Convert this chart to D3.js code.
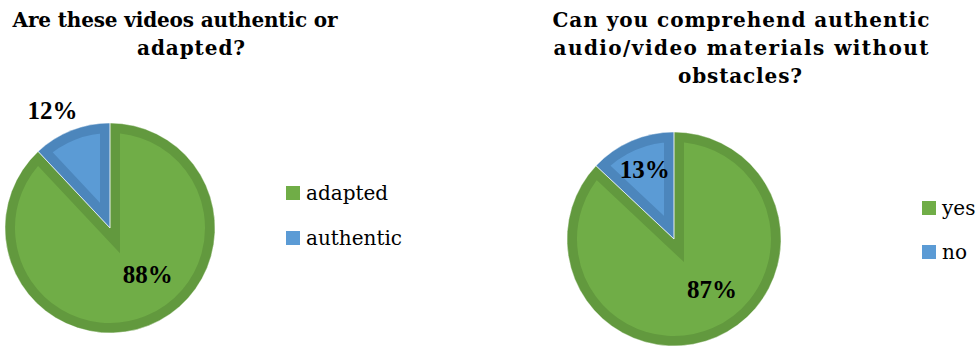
<!DOCTYPE html>
<html><head><meta charset="utf-8">
<script src="https://cdn.jsdelivr.net/npm/d3@7"></script>
<style>
html,body{margin:0;padding:0;background:#fff;}
svg{display:block;}
</style></head>
<body>
<svg id="c" width="979" height="347"></svg>
<script>
// ---- data ----
const chart1Categories = ["adapted", "authentic"];
const chart1Values = [88, 12];
const chart1Title = ["Are these videos authentic or", "adapted?"];

const chart2Categories = ["yes", "no"];
const chart2Values = [87, 13];
const chart2Title = ["Can you comprehend authentic", "audio/video materials without", "obstacles?"];

// ---- styles ----
const fills = ["#70AD47", "#5B9BD5"];
const borders = ["#62993E", "#4C86BC"];
const serif = "'DejaVu Serif', 'Liberation Serif', serif";
const labelFont = "'Liberation Serif', 'DejaVu Serif', serif";

const svg = d3.select("#c");

const charts = [
  {cats: chart1Categories, vals: chart1Values, title: chart1Title,
   cx: 110, cy: 228, r: 105,
   titleLines: [{x: 175, y: 27, w: 325}, {x: 191, y: 55, w: 108}],
   labelPos: [[141, 60], [334, 131]],
   legend: {x: 286, y: 186, gap: 45}},
  {cats: chart2Categories, vals: chart2Values, title: chart2Title,
   cx: 674, cy: 239, r: 107,
   titleLines: [{x: 741, y: 27, w: 377}, {x: 741, y: 55, w: 375}, {x: 740, y: 83, w: 124}],
   labelPos: [[143, 63], [337, 75]],
   legend: {x: 922, y: 201, gap: 44}}
];

const pie = d3.pie().sort(null).value(d => d);
const bw = 10;

charts.forEach((c, ci) => {
  const g = svg.append("g").attr("transform", `translate(${c.cx},${c.cy})`);
  const arc = d3.arc().innerRadius(0).outerRadius(c.r);
  const arcs = pie(c.vals);
  arcs.forEach((a, i) => {
    const id = `clip${ci}_${i}`;
    g.append("clipPath").attr("id", id).append("path").attr("d", arc(a));
    g.append("path").attr("d", arc(a))
      .attr("fill", fills[i])
      .attr("stroke", borders[i])
      .attr("stroke-width", bw * 2)
      .attr("stroke-linejoin", "miter")
      .attr("stroke-miterlimit", 10)
      .attr("clip-path", `url(#${id})`);
  });
  arcs.forEach((a, i) => {
    g.append("path").attr("d", arc(a))
      .attr("fill", "none")
      .attr("stroke", "#ffffff")
      .attr("stroke-opacity", 0.5)
      .attr("stroke-width", 1);
  });
  // labels
  arcs.forEach((a, i) => {
    const [ang, rr] = c.labelPos[i];
    const t = ang * Math.PI / 180;
    g.append("text")
      .attr("x", rr * Math.sin(t))
      .attr("y", -rr * Math.cos(t))
      .attr("dy", "0.33em")
      .attr("text-anchor", "middle")
      .attr("font-family", labelFont)
      .attr("font-weight", "bold")
      .attr("font-size", 25)
      .attr("fill", "#000")
      .text(Math.round(c.vals[i]) + "%");
  });
  // title
  c.title.forEach((line, li) => {
    const tl = c.titleLines[li];
    svg.append("text")
      .attr("x", tl.x).attr("y", tl.y)
      .attr("text-anchor", "middle")
      .attr("font-family", serif)
      .attr("font-weight", "bold")
      .attr("font-size", 20)
      .attr("textLength", tl.w)
      .attr("lengthAdjust", "spacing")
      .attr("fill", "#000")
      .text(line);
  });
  // legend
  c.cats.forEach((cat, i) => {
    const ly = c.legend.y + i * c.legend.gap;
    svg.append("rect").attr("x", c.legend.x).attr("y", ly)
      .attr("width", 14).attr("height", 14).attr("fill", fills[i]);
    svg.append("text").attr("x", c.legend.x + 20).attr("y", ly + 14)
      .attr("font-family", serif).attr("font-size", 20).attr("fill", "#000")
      .text(cat);
  });
});
</script>
</body></html>
